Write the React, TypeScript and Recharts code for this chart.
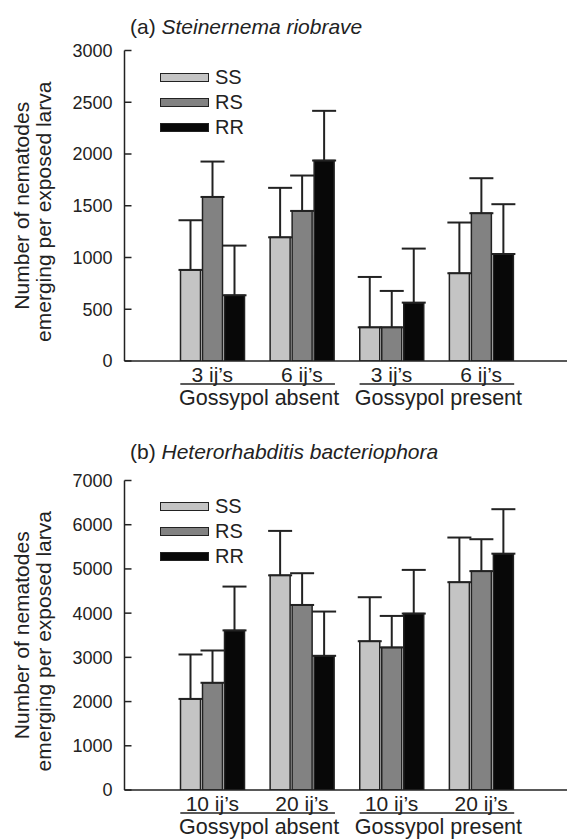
import { Bar, BarChart, ErrorBar, Legend, XAxis, YAxis } from "recharts";

const FONT = "'Liberation Sans', Arial, Helvetica, sans-serif";
const INK = "#222";

const SERIES = ["SS", "RS", "RR"];
const SERIES_FILL = ["#c4c4c4", "#828282", "#080808"];

const GROUPS = ["Gossypol absent", "Gossypol absent", "Gossypol present", "Gossypol present"];

// (a) Steinernema riobrave
const DOSES_A = ["3 ij’s", "6 ij’s", "3 ij’s", "6 ij’s"];
const SS_A = [880, 1195, 325, 848];
const RS_A = [1585, 1450, 325, 1428];
const RR_A = [635, 1937, 564, 1034];
const SS_ERR_A = [480, 478, 487, 490];
const RS_ERR_A = [342, 342, 352, 338];
const RR_ERR_A = [480, 480, 522, 481];
const TICKS_A = [0, 500, 1000, 1500, 2000, 2500, 3000];

// (b) Heterorhabditis bacteriophora
const DOSES_B = ["10 ij’s", "20 ij’s", "10 ij’s", "20 ij’s"];
const SS_B = [2060, 4855, 3365, 4700];
const RS_B = [2425, 4185, 3225, 4950];
const RR_B = [3610, 3035, 3990, 5345];
const SS_ERR_B = [1005, 1005, 995, 1010];
const RS_ERR_B = [730, 718, 712, 722];
const RR_ERR_B = [991, 1001, 988, 1006];
const TICKS_B = [0, 1000, 2000, 3000, 4000, 5000, 6000, 7000];

function buildRows(doses: string[], ss: number[], rs: number[], rr: number[], ssErr: number[], rsErr: number[], rrErr: number[]) {
  return doses.map((dose, i) => ({
    dose,
    group: GROUPS[i],
    SS: ss[i],
    RS: rs[i],
    RR: rr[i],
    ssErr: [0, ssErr[i]],
    rsErr: [0, rsErr[i]],
    rrErr: [0, rrErr[i]],
  }));
}

function DoseTick(props: any) {
  const { x, y, payload, index } = props;
  const half = typeof payload?.offset === "number" && payload.offset > 0 ? payload.offset : 44.75;
  const first = index % 2 === 0;
  return (
    <g>
      <text x={x} y={y + 20.5} textAnchor="middle" fontSize={21} fontFamily={FONT} fill={INK}>
        {payload.value}
      </text>
      {first ? (
        <>
          <line x1={x - 32} x2={x + 2 * half + 33} y1={y + 23} y2={y + 23} stroke={INK} strokeWidth={1.5} />
          <text x={x + half + 2} y={y + 44} textAnchor="middle" fontSize={21.5} fontFamily={FONT} fill={INK}>
            {GROUPS[index]}
          </text>
        </>
      ) : null}
    </g>
  );
}

function YLabel(props: any) {
  const vb = props.viewBox || { x: 0, y: 50, width: 124, height: 310 };
  const cy = vb.y + vb.height / 2;
  return (
    <text transform="rotate(-90)" textAnchor="middle" fontSize={21} fontFamily={FONT} fill={INK}>
      <tspan x={-cy} y={vb.x + 29}>
        Number of nematodes
      </tspan>
      <tspan x={-(cy + 6)} y={vb.x + 50.5}>
        emerging per exposed larva
      </tspan>
    </text>
  );
}

function SeriesLegend({ payload }: any) {
  const items = SERIES.map((s, i) => {
    const hit = (payload || []).find((p: any) => p.value === s);
    return { value: s, color: hit?.color || SERIES_FILL[i] };
  });
  return (
    <div style={{ fontFamily: FONT }}>
      {items.map((p) => (
        <div key={p.value} style={{ display: "flex", alignItems: "center", height: 25 }}>
          <div
            style={{
              width: 49,
              height: 9,
              boxSizing: "border-box",
              background: p.color,
              border: `1.5px solid ${INK}`,
            }}
          />
          <span style={{ marginLeft: 6, fontSize: 20, color: INK, lineHeight: "25px" }}>{p.value}</span>
        </div>
      ))}
    </div>
  );
}

function Panel({ rows, max, ticks, top }: { rows: any[]; max: number; ticks: number[]; top: number }) {
  return (
    <BarChart
      width={567}
      height={410}
      data={rows}
      margin={{ top, right: 0, bottom: 9, left: 0 }}
      barSize={20}
      barGap={2}
    >
      <XAxis
        dataKey="dose"
        height={40}
        interval={0}
        tickSize={0}
        tickMargin={0}
        tickLine={false}
        axisLine={{ stroke: INK, strokeWidth: 1.5 }}
        padding={{ left: 43, right: 41 }}
        tick={<DoseTick />}
      />
      <YAxis
        type="number"
        width={124.5}
        domain={[0, max]}
        ticks={ticks}
        interval={0}
        allowDataOverflow
        tickSize={-7}
        tickMargin={19}
        tick={{ fontSize: 18, fill: INK, fontFamily: FONT }}
        tickLine={{ stroke: INK, strokeWidth: 1.5 }}
        axisLine={{ stroke: INK, strokeWidth: 1.5 }}
        label={(p: any) => <YLabel {...p} />}
      />
      <Legend
        layout="vertical"
        align="center"
        verticalAlign="middle"
        content={<SeriesLegend />}
        wrapperStyle={{ left: 160, top: 65, width: 120 }}
      />
      <Bar dataKey="SS" name="SS" fill={SERIES_FILL[0]} stroke={INK} strokeWidth={1.5} isAnimationActive={false}>
        <ErrorBar dataKey="ssErr" direction="y" width={12} stroke={INK} strokeWidth={2} isAnimationActive={false} />
      </Bar>
      <Bar dataKey="RS" name="RS" fill={SERIES_FILL[1]} stroke={INK} strokeWidth={1.5} isAnimationActive={false}>
        <ErrorBar dataKey="rsErr" direction="y" width={12} stroke={INK} strokeWidth={2} isAnimationActive={false} />
      </Bar>
      <Bar dataKey="RR" name="RR" fill={SERIES_FILL[2]} stroke={INK} strokeWidth={1.5} isAnimationActive={false}>
        <ErrorBar dataKey="rrErr" direction="y" width={12} stroke={INK} strokeWidth={2} isAnimationActive={false} />
      </Bar>
    </BarChart>
  );
}

const titleStyle = {
  position: "absolute" as const,
  left: 130,
  fontFamily: FONT,
  fontSize: 21,
  lineHeight: "21px",
  color: INK,
  whiteSpace: "nowrap" as const,
};

export default function App() {
  const rowsA = buildRows(DOSES_A, SS_A, RS_A, RR_A, SS_ERR_A, RS_ERR_A, RR_ERR_A);
  const rowsB = buildRows(DOSES_B, SS_B, RS_B, RR_B, SS_ERR_B, RS_ERR_B, RR_ERR_B);
  return (
    <div
      style={{
        position: "absolute",
        left: 0,
        top: 0,
        width: 567,
        height: 839,
        background: "#fff",
        overflow: "hidden",
      }}
    >
      <div style={{ position: "absolute", left: 0, top: 0 }}>
        <Panel rows={rowsA} max={3000} ticks={TICKS_A} top={50.5} />
      </div>
      <div style={{ position: "absolute", left: 0, top: 429 }}>
        <Panel rows={rowsB} max={7000} ticks={TICKS_B} top={51.5} />
      </div>
      <div style={{ ...titleStyle, top: 15.7 }}>
        (a) <i>Steinernema riobrave</i>
      </div>
      <div style={{ ...titleStyle, top: 441 }}>
        (b) <i>Heterorhabditis bacteriophora</i>
      </div>
    </div>
  );
}
